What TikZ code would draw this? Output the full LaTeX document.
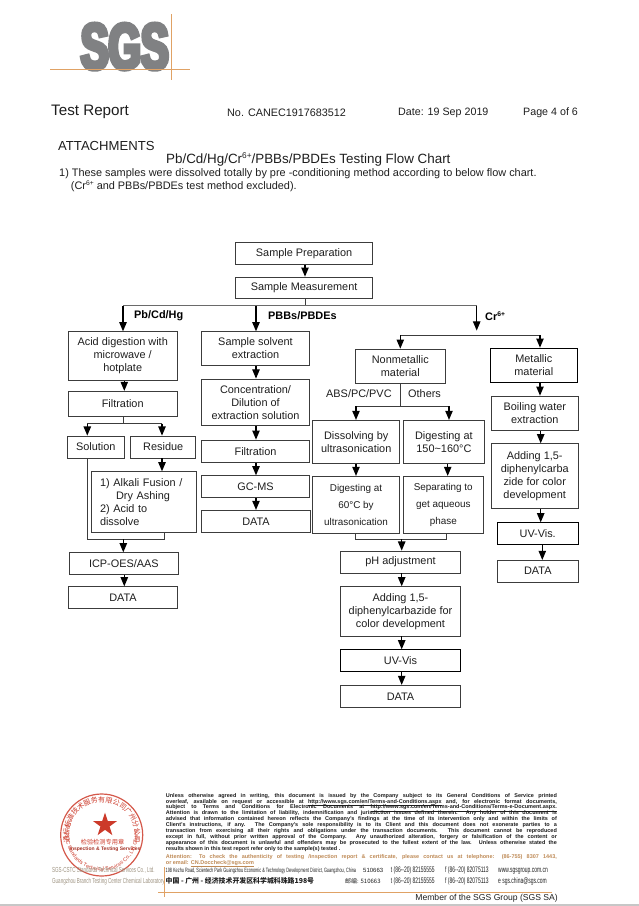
\documentclass[tikz,border=0pt]{standalone}
\usepackage{fontspec}
\setmainfont{Liberation Sans}
\newfontfamily\cjkfont{Noto Sans CJK SC}
\newfontfamily\sgsfont[FakeStretch=0.64,FakeBold=6.5]{Liberation Sans Bold}
\newfontfamily\narrowfont[FakeStretch=0.62]{Liberation Sans}
\usetikzlibrary{arrows,shapes.geometric,decorations.text}
\definecolor{linegray}{HTML}{3C3C3C}
\definecolor{trunkgray}{HTML}{6A6A6A}
\definecolor{inktext}{HTML}{1E1E1E}
\definecolor{logogray}{HTML}{808183}
\definecolor{sgsorange}{HTML}{E0A265}
\definecolor{stampred}{HTML}{CC3A2A}
\definecolor{tantext}{HTML}{9C917F}
\newcommand{\jline}[1]{\makebox[391pt][s]{#1}}
\newcommand{\crsup}{\raisebox{0.36em}{\fontsize{0.62em}{1em}\selectfont 6+}}
\newcommand{\tightlines}{\lineskiplimit=-5pt\relax}
\tikzset{
  box/.style 2 args={draw=linegray,line width=0.9pt,minimum width=#1pt,minimum height=#2pt,
    inner sep=0pt,align=center,text=inktext,font=\fontsize{10.9}{13}\selectfont},
  smallbox/.style 2 args={box={#1}{#2},font=\fontsize{9.9}{17}\selectfont},
  flow/.style={-triangle 45,draw=black,line width=1.1pt},
  link/.style={draw=linegray,line width=0.9pt},
  trunk/.style={draw=trunkgray,line width=1.4pt},
  lbl/.style={inner sep=0pt,anchor=west,text=inktext,font=\fontsize{10.9}{13}\selectfont},
  hdr/.style={inner sep=0pt,anchor=west,text=inktext},
  branch/.style={inner sep=0pt,anchor=west,text=black,font=\bfseries\fontsize{10.9}{13}\selectfont},
  print/.style={inner sep=0pt,anchor=north west,align=left,font=\bfseries\fontsize{5.5}{5.9}\selectfont\tightlines}
}
\begin{document}
\begin{tikzpicture}[x=1pt,y=-1pt]
  \useasboundingbox (0,0) rectangle (639,906);
  % letterhead
  \node[inner sep=0pt,text=logogray] (logo) at (124.7,46.6) {\fontsize{65}{65}\selectfont\sgsfont SGS};
  \coordinate (logoa) at (50,69.7);
  \coordinate (logob) at (190,69.7);
  \coordinate (logoc) at (171,14);
  \coordinate (logod) at (171,79.6);
  \draw[sgsorange,line width=1pt] (logoa) -- (logob);
  \draw[sgsorange,line width=1pt] (logoc) -- (logod);
  \node[hdr,font=\fontsize{15.2}{18}\selectfont] (report) at (51,111.7) {Test Report};
  \node[hdr,font=\fontsize{10.8}{13}\selectfont] (number) at (227,112.7) {No. CANEC1917683512};
  \node[hdr,font=\fontsize{10.7}{13}\selectfont] (date) at (398,112.7) {Date: 19 Sep 2019};
  \node[hdr,font=\fontsize{10.7}{13}\selectfont] (page) at (523,112.7) {Page 4 of 6};
  \node[hdr,font=\fontsize{13.1}{16}\selectfont] (attach) at (58,145.7) {ATTACHMENTS};
  \node[hdr,font=\fontsize{13.4}{16}\selectfont] (title) at (166,159.3) {Pb/Cd/Hg/Cr\crsup/PBBs/PBDEs Testing Flow Chart};
  \node[hdr,font=\fontsize{10.9}{13}\selectfont] (noteone) at (59,173.3) {1) These samples were dissolved totally by pre -conditioning method according to below flow chart.};
  \node[hdr,font=\fontsize{10.9}{13}\selectfont] (notetwo) at (70.7,186.7) {(Cr\crsup{} and PBBs/PBDEs test method excluded).};

  % top of the chart
  \node[box={137.2}{21.7}] (prep) at (304.1,253.2) {Sample Preparation};
  \node[box={137.2}{21.7}] (meas) at (304.1,287.9) {Sample Measurement};
  \coordinate (tr) at (305,305.7);
  \coordinate (trl) at (123,305.7);
  \coordinate (trm) at (256,305.7);
  \coordinate (trr) at (476.7,305.7);
  \coordinate (crend) at (476.7,330.5);
  \node[branch] (pbcd) at (134,316) {Pb/Cd/Hg};
  \node[branch] (pbbs) at (268,316) {PBBs/PBDEs};
  \node[branch] (crsix) at (485,316) {Cr\crsup};

  % Pb/Cd/Hg column
  \node[box={108.7}{48.6}] (acid) at (122.7,356) {Acid digestion with\\microwave /\\hotplate};
  \node[box={108.7}{25.4}] (filta) at (122.7,404) {Filtration};
  \node[box={57}{22}] (sol) at (95.8,447) {Solution};
  \node[box={65}{22}] (res) at (163.2,447) {Residue};
  \node[box={104.6}{60.6},text width=88pt,align=left] (alk) at (144,502) {1) Alkali Fusion /\\\hspace*{16pt}Dry Ashing\\2) Acid to\\dissolve};
  \node[box={108.3}{21.6}] (icp) at (123.9,563.5) {ICP-OES/AAS};
  \node[box={108.6}{21.6}] (dataa) at (123,597.5) {DATA};

  % PBBs/PBDEs column
  \node[box={108.4}{33.6}] (solv) at (255.5,348.5) {Sample solvent\\extraction};
  \node[box={108.4}{46.7}] (conc) at (255.5,402.3) {Concentration/\\Dilution of\\extraction solution};
  \node[box={108.4}{22.3}] (filtb) at (255.5,451.2) {Filtration};
  \node[box={108.4}{22}] (gcms) at (255.5,486.7) {GC-MS};
  \node[box={108.6}{22}] (datab) at (256,521.3) {DATA};

  % Cr(VI) columns
  \node[box={90}{34.3}] (nonm) at (400.3,366.2) {Nonmetallic\\material};
  \node[box={87}{34.3},draw=black] (metal) at (533.8,365.2) {Metallic\\material};
  \node[lbl] (abs) at (326,394) {ABS/PC/PVC};
  \node[lbl] (others) at (408,394) {Others};
  \node[box={87}{43}] (diss) at (356.2,441.8) {Dissolving by\\ultrasonication};
  \node[box={80.3}{43}] (dig) at (443.9,441.8) {Digesting at\\150\textasciitilde160\textdegree C};
  \node[smallbox={86.6}{57}] (digsix) at (356,504.8) {Digesting at\\60\textdegree C by\\ultrasonication};
  \node[smallbox={80}{57}] (sep) at (443.3,504.8) {Separating to\\get aqueous\\phase};
  \node[box={120.4}{22}] (ph) at (400.5,562) {pH adjustment};
  \node[box={120.4}{49.3}] (add) at (400.5,611.3) {Adding 1,5-\\diphenylcarbazide for\\color development};
  \node[box={120.4}{21.6},draw=black] (uv) at (400.5,660.5) {UV-Vis};
  \node[box={120.4}{22}] (datac) at (400.5,696.3) {DATA};
  \node[box={87}{34.3}] (boil) at (534.8,413.2) {Boiling water\\extraction};
  \node[box={86.7}{64.6}] (addm) at (534.7,476) {Adding 1,5-\\diphenylcarba\\zide for color\\development};
  \node[box={81.3}{22},draw=black] (uvm) at (537.7,533.7) {UV-Vis.};
  \node[box={81}{21.7}] (datam) at (537.8,571.2) {DATA};

  % straight arrows between boxes
  \foreach \from/\to/\x in {prep/meas/305, acid/filta/124.3, res/alk/162, icp/dataa/124.3,
      solv/conc/256, conc/filtb/256, filtb/gcms/256, gcms/datab/256,
      diss/digsix/356, dig/sep/447.7, ph/add/401.7, add/uv/401.7, uv/datac/401.7,
      metal/boil/540, boil/addm/540.7, addm/uvm/540.7, uvm/datam/542.3}
    \draw[flow] (\x,0 |- \from.south) -- (\x,0 |- \to.north);

  % main branch
  \draw[link] (305,0 |- meas.south) -- (tr);
  \draw[trunk] (trl) -- (trr);
  \draw[flow] (trl) -- (123,0 |- acid.north);
  \draw[flow] (trm) -- (256,0 |- solv.north);
  \draw[flow] (trr) -- (crend);

  % filtration split
  \coordinate (fsplit) at (123.7,423.7);
  \coordinate (fl) at (87.3,423.7);
  \coordinate (fr) at (162,423.7);
  \draw[link] (123.7,0 |- filta.south) -- (fsplit);
  \draw[link] (fl) -- (fr);
  \draw[flow] (fl) -- (87.3,0 |- sol.north);
  \draw[flow] (fr) -- (162,0 |- res.north);

  % solution and residue join
  \coordinate (jl) at (87,539);
  \coordinate (jr) at (164.7,539);
  \coordinate (jm) at (123.3,539);
  \draw[link] (87,0 |- sol.south) -- (jl) -- (jr) -- (164.7,0 |- alk.south);
  \draw[flow] (jm) -- (123.3,0 |- icp.north);

  % Cr split
  \coordinate (cl) at (400.3,335.3);
  \coordinate (cr) at (540,335.3);
  \draw[link] (cl) -- (cr);
  \draw[flow] (cl) -- (400.3,0 |- nonm.north);
  \draw[flow] (cr) -- (540,0 |- metal.north);

  % nonmetallic split
  \coordinate (nsplit) at (400.3,406.3);
  \coordinate (nl) at (356,406.3);
  \coordinate (nr) at (449,406.3);
  \draw[link] (400.3,0 |- nonm.south) -- (nsplit);
  \draw[link] (nl) -- (nr);
  \draw[flow] (nl) -- (356,0 |- diss.north);
  \draw[flow] (nr) -- (449,0 |- dig.north);

  % nonmetallic join
  \coordinate (ml) at (355,539.3);
  \coordinate (mr) at (446.7,539.3);
  \coordinate (mm) at (401.7,539.3);
  \draw[link] (355,0 |- digsix.south) -- (ml) -- (mr) -- (446.7,0 |- sep.south);
  \draw[flow] (mm) -- (401.7,0 |- ph.north);

  % stamp
  \node[circle,draw=stampred!85!white,line width=1.2pt,minimum size=82pt,inner sep=0pt] (stamp) at (101.7,835) {};
  \node[star,star points=5,star point ratio=2.6,fill=stampred,inner sep=0pt,minimum size=25pt] (redstar) at (105,825) {};
  \node[inner sep=0pt,text=stampred,font=\cjkfont\fontsize{6.2}{7}\selectfont] (stampcn) at (102.5,841.7) {检验检测专用章};
  \node[inner sep=0pt,text=stampred!80!black,font=\bfseries\fontsize{5}{6}\selectfont] (stampen) at (105,849) {Inspection \& Testing Services};
  \path[decorate,decoration={text along path,text align=center,
      text={|\cjkfont\fontsize{7}{8}\selectfont\color{stampred}|通标标准技术服务有限公司广州分公司}}]
    (101.7,835) ++(205:33pt) arc[start angle=205,end angle=-25,radius=33pt];
  \path[decorate,decoration={text along path,text align=center,
      text={|\fontsize{5.2}{6}\selectfont\color{stampred}|SGS-CSTC Standards Technical Services Co.{,} Ltd. Guangzhou}}]
    (101.7,835) ++(170:36pt) arc[start angle=170,end angle=370,radius=36pt];
  \node[hdr,text=tantext,font=\narrowfont\fontsize{7.3}{9}\selectfont] (cstc) at (52,870.7) {SGS-CSTC Standards Technical Services Co., Ltd.};
  \node[hdr,text=tantext,font=\narrowfont\fontsize{7.3}{9}\selectfont] (gzlab) at (52,882) {Guangzhou Branch Testing Center Chemical Laboratory};

  % small print
  \node[print,text=inktext] (terms) at (165.7,793) {%
    \jline{Unless otherwise agreed in writing, this document is issued by the Company subject to its General Conditions of Service printed}\\
    \jline{overleaf, available on request or accessible at \underline{http://www.sgs.com/en/Terms-and-Conditions.aspx} and, for electronic format documents,}\\
    \jline{subject to Terms and Conditions for Electronic Documents at \underline{http://www.sgs.com/en/Terms-and-Conditions/Terms-e-Document.aspx.}}\\
    \jline{Attention is drawn to the limitation of liability, indemnification and jurisdiction issues defined therein. Any holder of this document is}\\
    \jline{advised that information contained hereon reflects the Company's findings at the time of its intervention only and within the limits of}\\
    \jline{Client's instructions, if any. The Company's sole responsibility is to its Client and this document does not exonerate parties to a}\\
    \jline{transaction from exercising all their rights and obligations under the transaction documents. This document cannot be reproduced}\\
    \jline{except in full, without prior written approval of the Company. Any unauthorized alteration, forgery or falsification of the content or}\\
    \jline{appearance of this document is unlawful and offenders may be prosecuted to the fullest extent of the law. Unless otherwise stated the}\\
    results shown in this test report refer only to the sample(s) tested .};
  \node[print,text=sgsorange!85!black] (attn) at (165.7,854) {%
    \jline{Attention: To check the authenticity of testing /inspection report \& certificate, please contact us at telephone: (86-755) 8307 1443,}\\
    or email: \underline{CN.Doccheck@sgs.com}};
  \node[hdr,font=\narrowfont\fontsize{6.2}{7}\selectfont] (addr) at (165.5,870.7) {198 Kezhu Road, Scientech Park Guangzhou Economic \& Technology Development District, Guangzhou, China};
  \node[hdr,font=\fontsize{6}{7}\selectfont] (zipa) at (363,870.7) {510663};
  \node[hdr,font=\narrowfont\fontsize{8}{9}\selectfont] (tela) at (390.7,870.7) {t (86--20) 82155555};
  \node[hdr,font=\narrowfont\fontsize{8}{9}\selectfont] (faxa) at (445,870.7) {f (86--20) 82075113};
  \node[hdr,font=\narrowfont\fontsize{8}{9}\selectfont] (weba) at (498,870.7) {www.sgsgroup.com.cn};
  \node[hdr,font=\cjkfont\bfseries\fontsize{6.9}{8}\selectfont] (addrcn) at (165.5,881) {中国 - 广州 - 经济技术开发区科学城科珠路198号};
  \node[hdr,font=\cjkfont\fontsize{6}{7}\selectfont] (zipcn) at (345,881) {邮编: 510663};
  \node[hdr,font=\narrowfont\fontsize{8}{9}\selectfont] (telb) at (390.7,881) {t (86--20) 82155555};
  \node[hdr,font=\narrowfont\fontsize{8}{9}\selectfont] (faxb) at (445,881) {f (86--20) 82075113};
  \node[hdr,font=\narrowfont\fontsize{8}{9}\selectfont] (webb) at (498,881) {e sgs.china@sgs.com};
  \coordinate (rulea) at (158,892);
  \coordinate (ruleb) at (552,892);
  \coordinate (rulec) at (164,867);
  \coordinate (ruled) at (164,897);
  \draw[sgsorange,line width=0.7pt] (rulea) -- (ruleb);
  \draw[sgsorange,line width=0.7pt] (rulec) -- (ruled);
  \node[hdr,anchor=east,font=\fontsize{8.6}{10}\selectfont] (member) at (558,898) {Member of the SGS Group (SGS SA)};
  \fill[black!22] (0,904) rectangle (639,906);
\end{tikzpicture}
\end{document}
